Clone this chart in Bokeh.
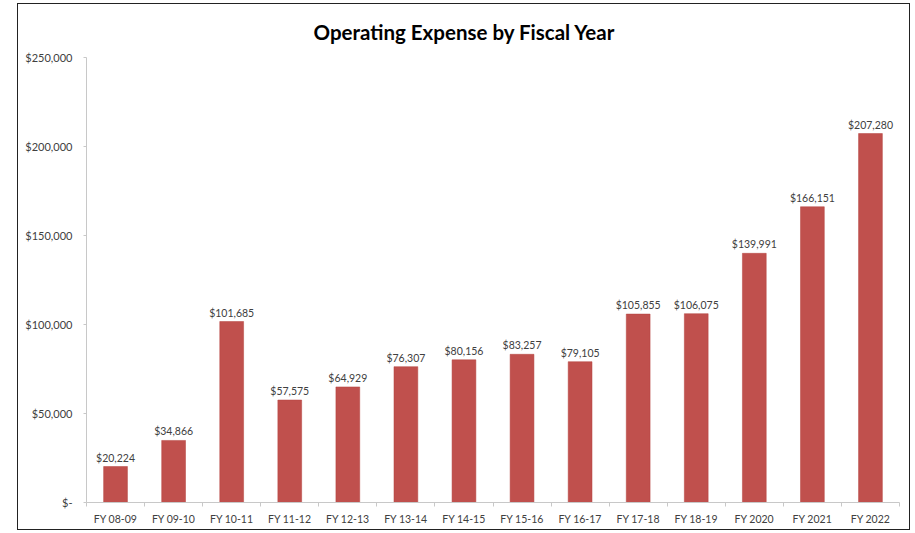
from bokeh.plotting import figure
from bokeh.models import Range1d, FixedTicker, ColumnDataSource, LinearAxis
from bokeh.core.properties import value
from bokeh.embed import file_html
from bokeh.resources import INLINE

categories = ["FY 08-09", "FY 09-10", "FY 10-11", "FY 11-12", "FY 12-13", "FY 13-14",
              "FY 14-15", "FY 15-16", "FY 16-17", "FY 17-18", "FY 18-19", "FY 2020",
              "FY 2021", "FY 2022"]
expenses = [20224, 34866, 101685, 57575, 64929, 76307, 80156, 83257, 79105,
            105855, 106075, 139991, 166151, 207280]
y_ticks = [0, 50000, 100000, 150000, 200000, 250000]
y_tick_labels = ["$-", "$50,000", "$100,000", "$150,000", "$200,000", "$250,000"]

n = len(categories)
centers = [i + 0.5 for i in range(n)]
bounds = list(range(n + 1))
labels = ["${:,}".format(v) for v in expenses]

src = ColumnDataSource(dict(x=centers, top=expenses, label=labels))

FONT = "Lato"
TXT = "#404040"

p = figure(width=893, height=527, output_backend="svg", toolbar_location=None,
           x_range=Range1d(0, n), y_range=Range1d(0, 250000),
           min_border_left=68, min_border_right=12, min_border_top=53, min_border_bottom=29,
           x_axis_type=None, y_axis_type=None)
p.styles = {"border": "1px solid #222222", "margin-left": "17px", "margin-top": "3px"}
p.outline_line_color = None
p.grid.visible = False
p.background_fill_color = "white"
p.border_fill_color = "white"

p.title.text = "Operating Expense by Fiscal Year"
p.title.text_font = FONT
p.title.text_font_size = "20.5px"
p.title.text_font_style = "bold"
p.title.text_color = "#000000"
p.title.align = "left"
p.title.offset = 227
p.title.standoff = 27

p.vbar(x="x", top="top", width=0.41, source=src, fill_color="#C0504D",
       line_color="#B5433F", line_width=0.5)

p.text(x="x", y="top", text="label", source=src, text_align="center",
       text_baseline="alphabetic", y_offset=-9, text_font=value(FONT),
       text_font_size="10.5px", text_color=TXT)

yaxis = LinearAxis(ticker=FixedTicker(ticks=y_ticks, minor_ticks=[]))
yaxis.major_label_overrides = {t: l for t, l in zip(y_ticks, y_tick_labels)}
yaxis.axis_line_color = "#C8C8C8"
yaxis.major_tick_line_color = "#C8C8C8"
yaxis.major_tick_out = 3
yaxis.major_tick_in = 0
yaxis.major_label_standoff = 11
yaxis.major_label_text_font = FONT
yaxis.major_label_text_font_size = "11px"
yaxis.major_label_text_color = TXT
p.add_layout(yaxis, "left")

xaxis = LinearAxis(ticker=FixedTicker(ticks=centers, minor_ticks=bounds))
xaxis.major_label_overrides = {c: l for c, l in zip(centers, categories)}
xaxis.axis_line_color = "#C8C8C8"
xaxis.major_tick_line_color = None
xaxis.major_tick_out = 0
xaxis.major_tick_in = 0
xaxis.minor_tick_line_color = "#C8C8C8"
xaxis.minor_tick_out = 4
xaxis.minor_tick_in = 0
xaxis.major_label_standoff = 6
xaxis.major_label_text_font = FONT
xaxis.major_label_text_font_size = "10.5px"
xaxis.major_label_text_color = TXT
p.add_layout(xaxis, "below")

open("out.html", "w").write(file_html(p, INLINE))
